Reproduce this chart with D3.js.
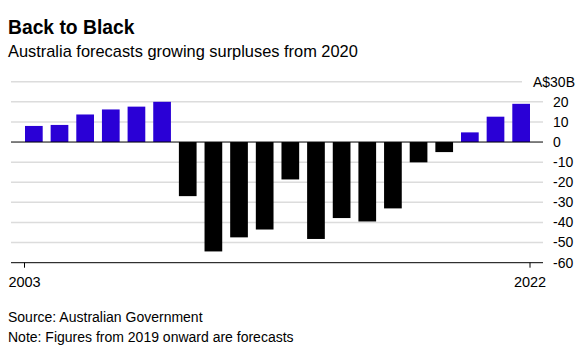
<!DOCTYPE html>
<html lang="en">
<head>
  <meta charset="utf-8">
  <title>Back to Black</title>
  <script src="https://cdnjs.cloudflare.com/ajax/libs/d3/7.8.5/d3.min.js"></script>
  <style>
    body { margin: 0; background: #fff; }
    svg { display: block; font-family: "Liberation Sans", Arial, sans-serif; }
  </style>
</head>
<body>
<svg id="chart"></svg>
<script>
var years = d3.range(2003, 2023);
var balance = [8.0, 8.5, 13.7, 16.2, 17.6, 20.0, -26.9, -54.4, -47.4, -43.5,
               -18.6, -48.2, -37.8, -39.5, -33.0, -10.1, -5.0, 4.8, 12.6, 19.0];
var yTicks = [30, 20, 10, 0, -10, -20, -30, -40, -50, -60];
var xTickLabels = ["2003", "2022"];

var w = 580, h = 349;
var left = 11, right = 543;

var svg = d3.select("#chart").attr("width", w).attr("height", h);

var x = d3.scaleBand().domain(years).range([25, 530]).paddingInner(0.31).paddingOuter(0);
var y = d3.scaleLinear().domain([-60, 30]).range([262.7, 81.7]);

// gridlines
svg.append("g").selectAll("line")
  .data(yTicks.filter(function(d) { return d !== 0 && d !== -60; }))
  .enter().append("line")
  .attr("x1", left)
  .attr("x2", function(d) { return d === 30 ? 522 : right; })
  .attr("y1", function(d) { return y(d); })
  .attr("y2", function(d) { return y(d); })
  .attr("stroke", "#dcdcdc")
  .attr("stroke-width", 1.5);

// y labels
svg.append("g").selectAll("text")
  .data(yTicks)
  .enter().append("text")
  .attr("x", function(d) { return d === 30 ? 575 : 553; })
  .attr("y", function(d) { return y(d); })
  .attr("dy", "0.35em")
  .attr("text-anchor", function(d) { return d === 30 ? "end" : "start"; })
  .style("font-size", "14px")
  .attr("fill", "#000")
  .text(function(d) { return d === 30 ? "A$30B" : d; });

// bars
svg.append("g").selectAll("rect")
  .data(balance)
  .enter().append("rect")
  .attr("x", function(d, i) { return x(years[i]); })
  .attr("y", function(d) { return y(Math.max(0, d)); })
  .attr("width", x.bandwidth())
  .attr("height", function(d) { return Math.abs(y(d) - y(0)); })
  .attr("fill", function(d) { return d >= 0 ? "#2a00d6" : "#000"; });

// zero line and bottom axis
svg.append("line")
  .attr("x1", left).attr("x2", right)
  .attr("y1", y(0)).attr("y2", y(0))
  .attr("stroke", "#000").attr("stroke-width", 1);

svg.append("line")
  .attr("x1", left).attr("x2", right)
  .attr("y1", y(-60)).attr("y2", y(-60))
  .attr("stroke", "#000").attr("stroke-width", 1);

// x ticks at the outer edges of first and last bar
var xTickPos = [x(years[0]) - 0.5, x(years[years.length - 1]) + x.bandwidth()];
var xt = svg.append("g").selectAll("g")
  .data(xTickLabels)
  .enter().append("g")
  .attr("transform", function(d, i) { return "translate(" + xTickPos[i] + "," + y(-60) + ")"; });
xt.append("line").attr("y1", 0).attr("y2", 5).attr("stroke", "#000");
xt.append("text")
  .attr("y", 24)
  .attr("text-anchor", "middle")
  .style("font-size", "14.5px")
  .text(function(d) { return d; });

// titles
svg.append("text")
  .attr("x", 8).attr("y", 34.3)
  .attr("font-weight", "bold")
  .style("font-size", "19.3px")
  .text("Back to Black");

svg.append("text")
  .attr("x", 8).attr("y", 57.3)
  .style("font-size", "16.4px")
  .text("Australia forecasts growing surpluses from 2020");

svg.append("text")
  .attr("x", 8).attr("y", 322.3)
  .style("font-size", "14px")
  .text("Source: Australian Government");

svg.append("text")
  .attr("x", 8).attr("y", 341.7)
  .style("font-size", "14px")
  .text("Note: Figures from 2019 onward are forecasts");
</script>
</body>
</html>
